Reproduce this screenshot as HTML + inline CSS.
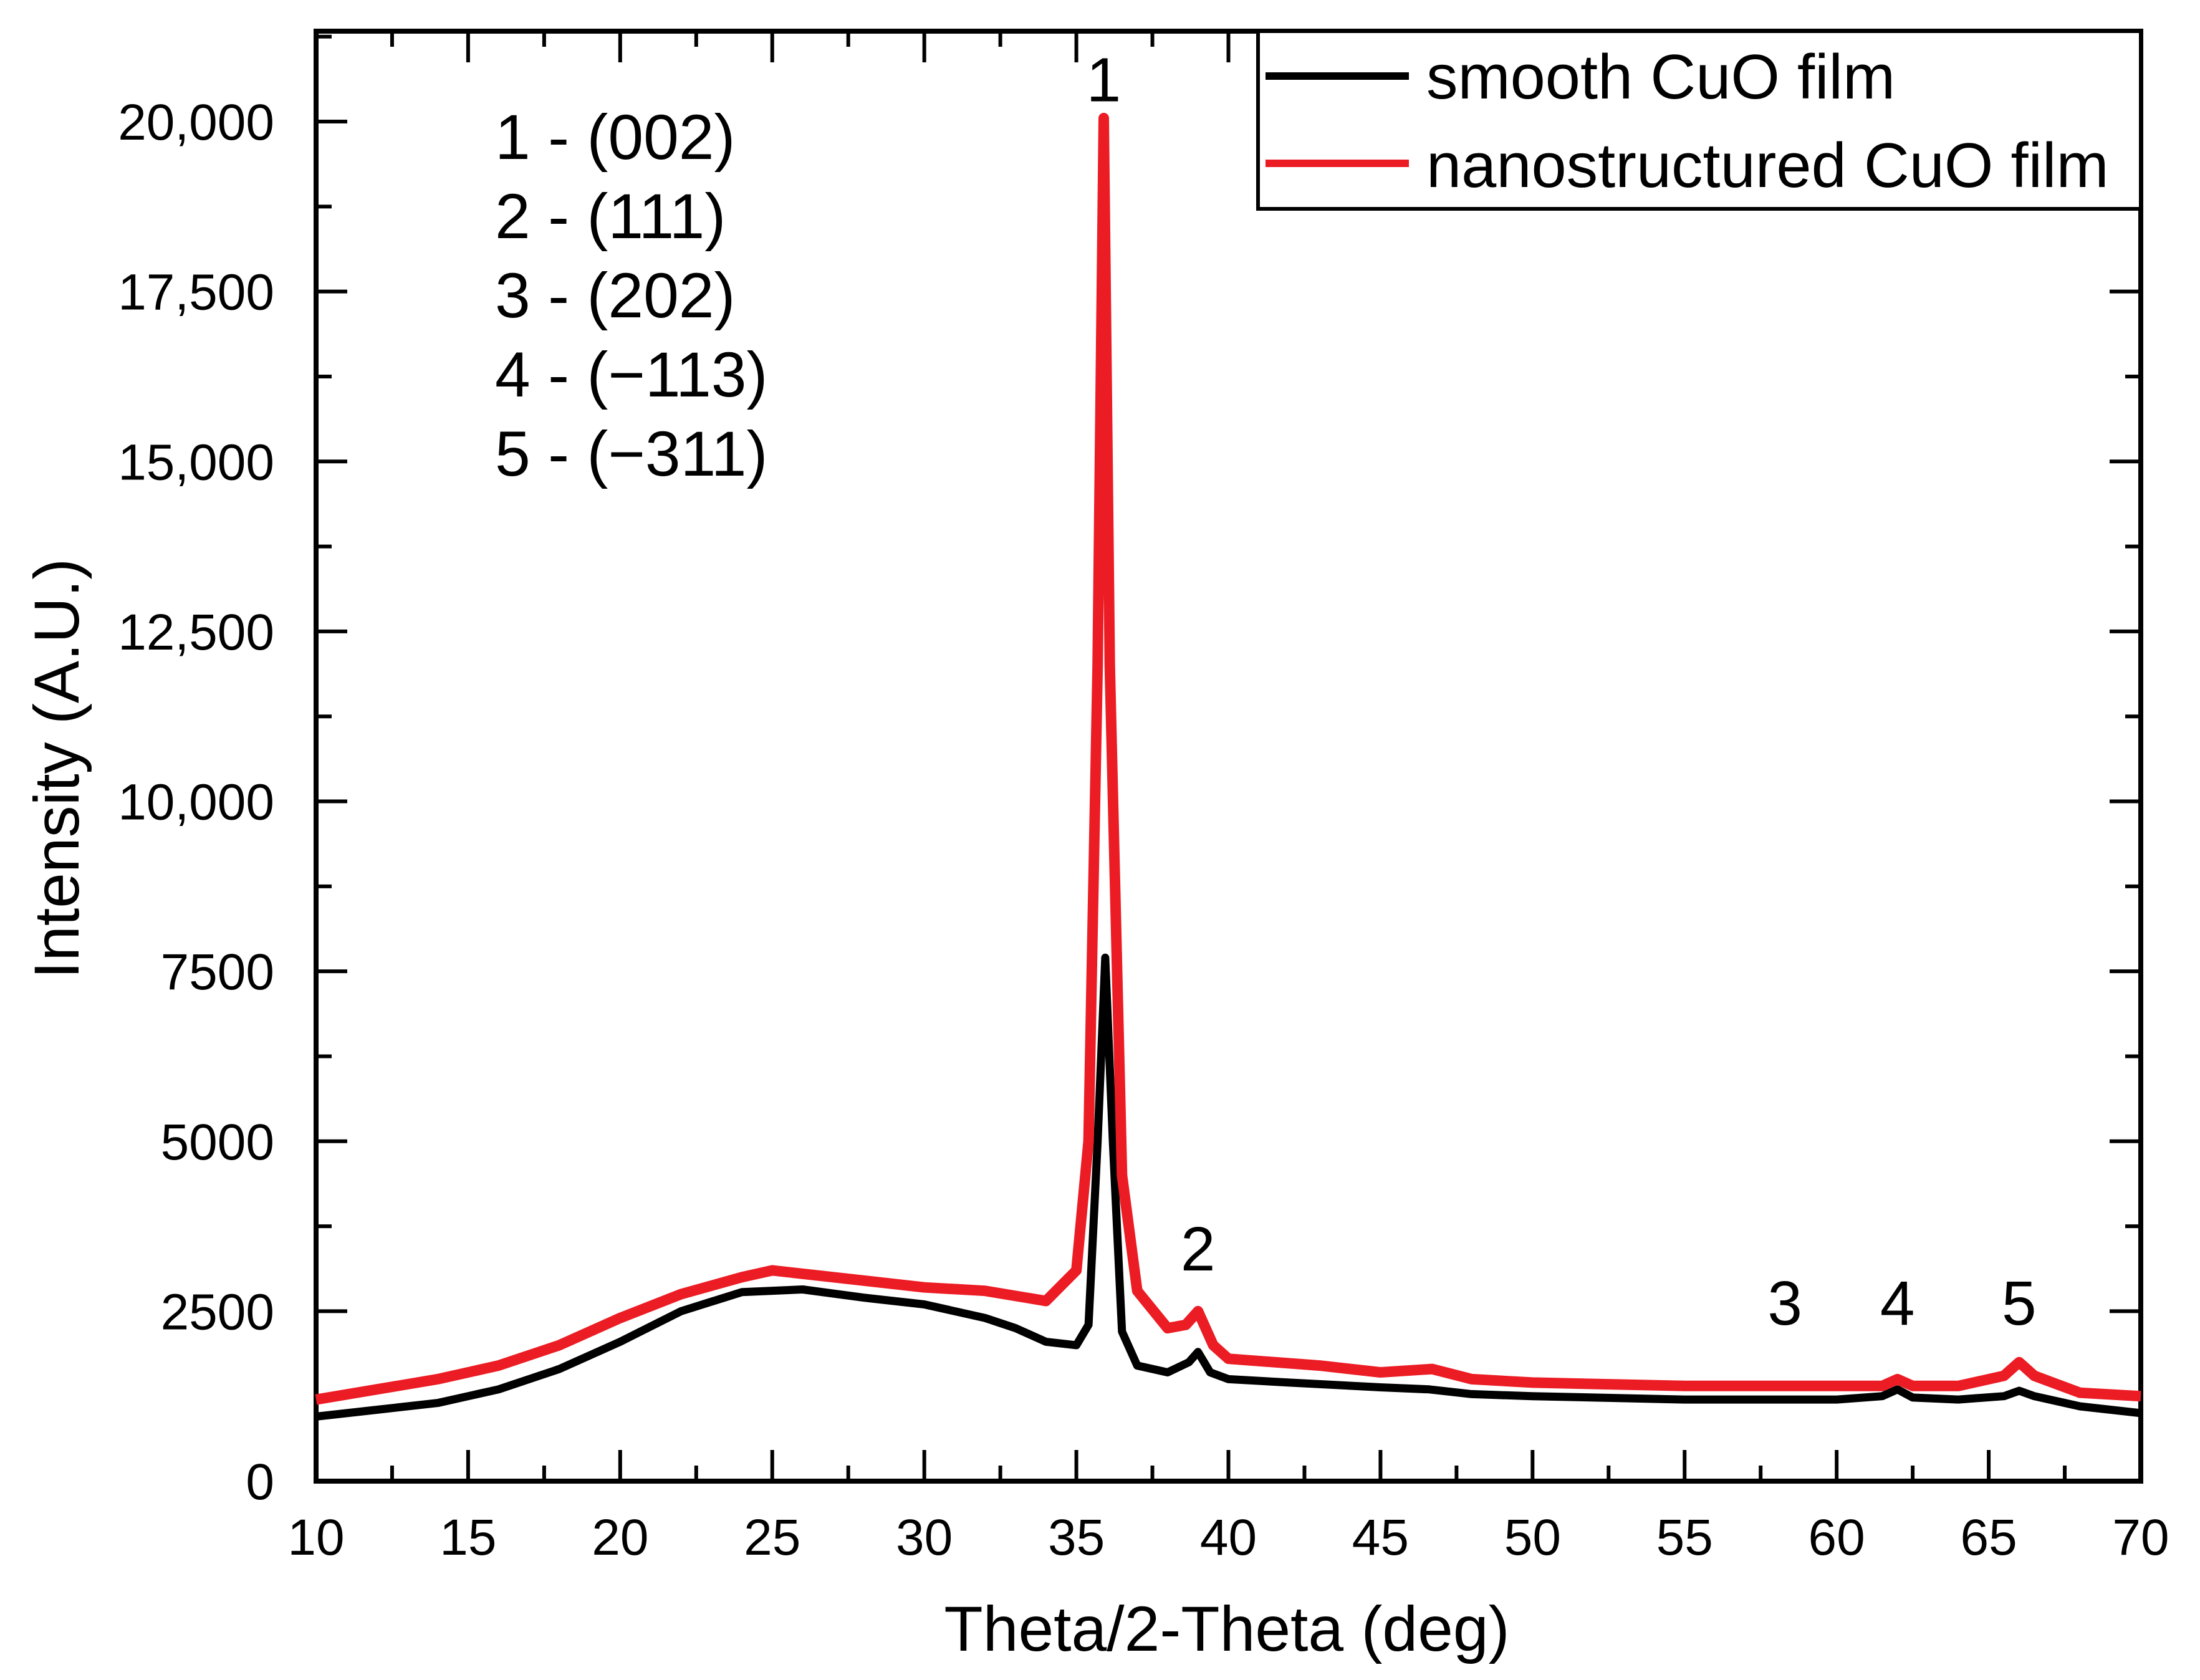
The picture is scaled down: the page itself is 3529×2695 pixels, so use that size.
<!DOCTYPE html>
<html><head><meta charset="utf-8"><style>
html,body{margin:0;padding:0;background:#fff;}
svg{display:block;font-family:"Liberation Sans",Arial,sans-serif;}
</style></head><body>
<svg id="chart" width="3529" height="2695" viewBox="0 0 3529 2695" xmlns="http://www.w3.org/2000/svg">
<rect x="0" y="0" width="3529" height="2695" fill="#fff"/>
<g id="axes"></g>
<g id="series"></g>
<g id="labels"></g>
</svg>
<script>
const xTicks = [10,15,20,25,30,35,40,45,50,55,60,65,70];
const yTickValues = [0,2500,5000,7500,10000,12500,15000,17500,20000];
const yTickLabels = ["0","2500","5000","7500","10,000","12,500","15,000","17,500","20,000"];
const smoothX = [10,12,14,16,18,20,22,24,26,28,30,32,33,34,35,35.4,35.7,35.95,36.2,36.5,37,38,38.7,39,39.4,40,42,45,46.6,48,50,55,60,61.5,62,62.5,64,65.5,66,66.5,68,70];
const smoothY = [950,1050,1150,1350,1650,2050,2500,2780,2820,2700,2600,2400,2250,2050,2000,2300,5000,7700,5000,2200,1700,1600,1750,1900,1600,1500,1450,1380,1350,1280,1250,1200,1200,1250,1350,1230,1200,1250,1330,1250,1100,1000];
const nanoX = [10,12,14,16,18,20,22,24,25,27,30,32,34,35,35.4,35.7,35.9,36.1,36.5,37,38,38.6,39,39.5,40,43,45,46.7,48,50,55,60,61.5,62,62.5,64,65.5,66,66.5,68,70];
const nanoY = [1200,1350,1500,1700,2000,2400,2750,3000,3100,3000,2850,2800,2650,3100,5000,12000,20050,12000,4500,2800,2250,2300,2500,2000,1800,1700,1600,1650,1500,1450,1400,1400,1400,1500,1400,1400,1550,1750,1550,1300,1250];
const peakNums = ["1","2","3","4","5"];
const peakX = [35.9,39.0,58.3,62.0,66.0];
const peakLabelY = [20300,3100,2300,2300,2300];
const hklLines = ["1 - (002)","2 - (111)","3 - (202)","4 - (\u2212113)","5 - (\u2212311)"];

const L=507,R=3434,T=50,B=2376,Y0=2376,Y20=195;
const sx=v=>L+(v-10)/60*(R-L);
const sy=v=>Y0-(v/20000)*(Y0-Y20);
const NS="http://www.w3.org/2000/svg";
function mk(tag,attrs,parent){const e=document.createElementNS(NS,tag);for(const k in attrs)e.setAttribute(k,attrs[k]);parent.appendChild(e);return e;}
const axes=document.getElementById('axes'),series=document.getElementById('series'),labels=document.getElementById('labels');

let frame=mk('rect',{x:L,y:T,width:R-L,height:B-T,fill:'none',stroke:'#000','stroke-width':8},axes);


for(let v=10;v<=70;v+=2.5){
  const maj=(v%5===0);const len=maj?50:25;const x=sx(v);
  let t=mk('line',{x1:x,y1:B,x2:x,y2:B-len,stroke:'#000','stroke-width':6},axes);
  
  let t2=mk('line',{x1:x,y1:T,x2:x,y2:T+len,stroke:'#000','stroke-width':6},axes);
  
}
xTicks.forEach(v=>{
  let t=mk('text',{x:sx(v),y:2494,'font-size':82,'text-anchor':'middle',fill:'#000'},labels);
  t.textContent=v;
  
});
for(let v=0;v<=21250;v+=1250){
  const maj=(v%2500===0);const len=maj?50:25;const y=sy(v);
  if(y<T)continue;
  let t=mk('line',{x1:L,y1:y,x2:L+len,y2:y,stroke:'#000','stroke-width':6},axes);
  
  let t2=mk('line',{x1:R,y1:y,x2:R-len,y2:y,stroke:'#000','stroke-width':6},axes);
  
}
yTickValues.forEach((v,i)=>{
  let t=mk('text',{x:440,y:sy(v)+29,'font-size':82,'text-anchor':'end',fill:'#000'},labels);
  t.textContent=yTickLabels[i];
  
});
let xt=mk('text',{x:1968,y:2648,'font-size':102,'text-anchor':'middle',fill:'#000'},labels);
xt.textContent='Theta/2-Theta (deg)';

let yt=mk('text',{x:0,y:0,'font-size':102,'text-anchor':'middle',fill:'#000',transform:'translate(126,1233) rotate(-90)'},labels);
yt.textContent='Intensity (A.U.)';


function path(xs,ys){return xs.map((x,i)=>(i?'L':'M')+sx(x).toFixed(1)+','+sy(ys[i]).toFixed(1)).join(' ');}
let pb=mk('path',{d:path(smoothX,smoothY),fill:'none',stroke:'#000','stroke-width':13,'stroke-linejoin':'round'},series);

let pr=mk('path',{d:path(nanoX,nanoY),fill:'none',stroke:'#ec1c24','stroke-width':17,'stroke-linejoin':'round'},series);


peakNums.forEach((n,i)=>{
  let t=mk('text',{x:sx(peakX[i]),y:sy(peakLabelY[i]),'font-size':100,'text-anchor':'middle',fill:'#000'},labels);
  t.textContent=n;
  
});
hklLines.forEach((s,i)=>{
  let t=mk('text',{x:794,y:255+i*127,'font-size':102,fill:'#000'},labels);
  t.textContent=s;
  
});

let lg=mk('g',{},labels);

mk('rect',{x:2018,y:50,width:1416,height:285,fill:'#fff',stroke:'#000','stroke-width':6},lg);
let l1=mk('line',{x1:2030,y1:122,x2:2260,y2:122,stroke:'#000','stroke-width':12},lg);

let t1=mk('text',{x:2288,y:158,'font-size':101,fill:'#000'},lg);t1.textContent='smooth CuO film';

let l2=mk('line',{x1:2030,y1:262,x2:2260,y2:262,stroke:'#ec1c24','stroke-width':12},lg);

let t2=mk('text',{x:2288,y:300,'font-size':101,fill:'#000'},lg);t2.textContent='nanostructured CuO film';

</script>
</body></html>
